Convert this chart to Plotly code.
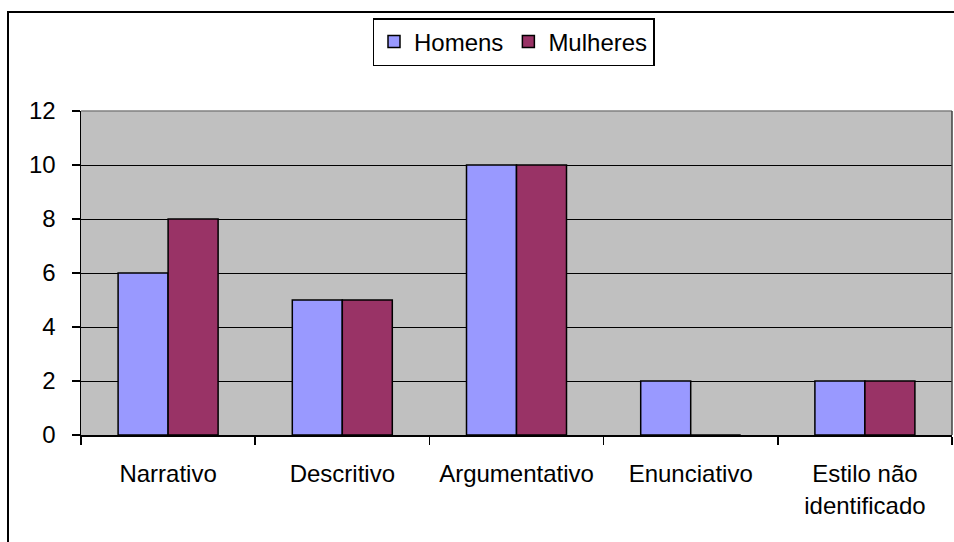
import plotly.graph_objects as go

categories = ["Narrativo", "Descritivo", "Argumentativo", "Enunciativo", "Estilo não<br>identificado"]
homens = [6, 5, 10, 2, 2]
mulheres = [8, 5, 10, 0, 2]
series_names = ["Homens", "Mulheres"]
y_ticks = [0, 2, 4, 6, 8, 10, 12]

W, H = 954, 542
L, R, T, B = 81, 952, 111, 435  # plot area in pixels
pw, ph = R - L, B - T

def px_x(x):
    return (x - L) / pw

def px_y(y):
    return (B - y) / ph

FONT = "Liberation Sans, Arial, sans-serif"
FS = 24

fig = go.Figure()
fig.add_trace(go.Bar(x=categories, y=homens, name=series_names[0],
                     marker=dict(color="#9999FF", line=dict(color="black", width=1.5))))
fig.add_trace(go.Bar(x=categories, y=mulheres, name=series_names[1],
                     marker=dict(color="#993366", line=dict(color="black", width=1.5))))

fig.update_layout(
    width=W, height=H,
    margin=dict(l=L, r=W - R, t=T, b=H - B, pad=0),
    paper_bgcolor="white",
    plot_bgcolor="#C0C0C0",
    barmode="group",
    bargap=0.426,
    bargroupgap=0,
    font=dict(family=FONT, size=FS, color="black"),
    legend=dict(
        orientation="h",
        x=px_x(513.5), xanchor="center",
        y=px_y(18), yanchor="top",
        bordercolor="black", borderwidth=1.5,
        bgcolor="white",
        font=dict(family=FONT, size=FS, color="black"),
        itemclick=False,
    ),
    showlegend=True,
)

fig.update_xaxes(
    showline=True, linecolor="black", linewidth=1.5,
    ticks="outside", tickson="boundaries", ticklen=8, tickcolor="black", tickwidth=1.5,
    showgrid=False,
    ticklabelstandoff=17,
    tickfont=dict(family=FONT, size=FS, color="black"),
)
fig.update_yaxes(
    range=[0, 12], tickvals=y_ticks,
    showline=True, linecolor="black", linewidth=1.5,
    ticks="outside", ticklen=8, tickcolor="black", tickwidth=1.5,
    showgrid=True, gridcolor="black", gridwidth=1,
    zeroline=False,
    ticklabelstandoff=11,
    tickfont=dict(family=FONT, size=FS, color="black"),
)

# plot-area border (top and right, gray as in the reference)
fig.add_shape(type="line", xref="paper", yref="paper", x0=0, x1=1, y0=1, y1=1,
              line=dict(color="#808080", width=1.5), layer="above")
fig.add_shape(type="line", xref="paper", yref="paper", x0=1, x1=1, y0=0, y1=1,
              line=dict(color="#404040", width=1.5), layer="above")
# outer chart border
fig.add_shape(type="rect", xref="paper", yref="paper",
              x0=px_x(8), x1=px_x(970), y0=px_y(12), y1=px_y(570),
              line=dict(color="black", width=2), fillcolor="rgba(0,0,0,0)", layer="above")

fig.write_html("out.html",
               config={"displayModeBar": False, "staticPlot": True},
               post_script="document.body.style.margin='0';document.body.style.overflow='hidden';")
